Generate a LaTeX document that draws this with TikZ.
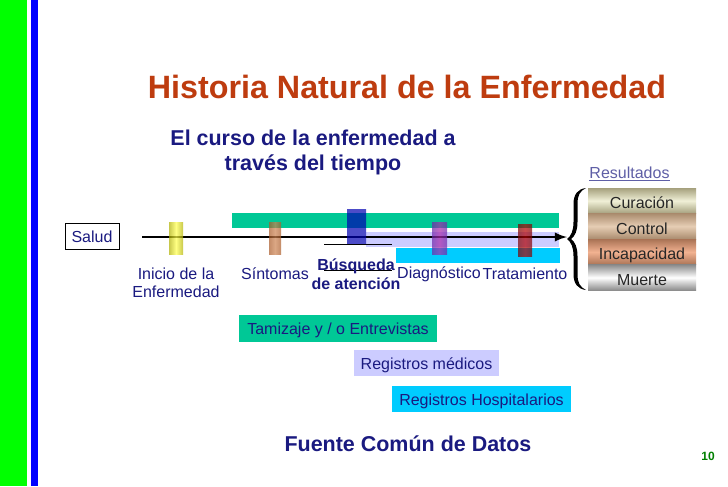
\documentclass[tikz,border=0pt]{standalone}
\usepackage{fontspec}
\setmainfont{Liberation Sans}
\definecolor{textblue}{RGB}{26,26,128}
\definecolor{titlered}{RGB}{190,60,15}
\definecolor{barteal}{RGB}{0,200,150}
\definecolor{barlav}{RGB}{204,204,255}
\definecolor{barcyan}{RGB}{0,204,255}
\definecolor{curA}{RGB}{165,160,125}\definecolor{curB}{RGB}{240,240,215}
\definecolor{conA}{RGB}{170,140,110}\definecolor{conB}{RGB}{230,205,180}
\definecolor{incA}{RGB}{170,115,85}\definecolor{incB}{RGB}{242,178,145}
\definecolor{mueA}{RGB}{140,140,140}
\definecolor{sinA}{RGB}{170,90,40}\definecolor{sinB}{RGB}{205,130,80}
\definecolor{diaA}{RGB}{110,40,170}\definecolor{diaB}{RGB}{170,40,170}
\tikzset{
  lbl/.style={text=textblue,font=\fontsize{12}{13.5}\selectfont,align=center,inner sep=0pt},
  lblbold/.style={text=textblue,font=\fontsize{12}{14.25}\selectfont\bfseries,align=center,inner sep=0pt},
  bar/.style={minimum height=15*0.75pt,inner sep=0pt,anchor=west},
  marker/.style={minimum width=14*0.75pt,minimum height=32*0.75pt,inner sep=0pt,fill opacity=.7},
  res/.style={minimum width=108*0.75pt,minimum height=25.5*0.75pt,inner sep=0pt,text=black!85,text height=12pt,text depth=.2pt,font=\fontsize{12}{13}\selectfont},
  tag/.style={text=textblue,font=\fontsize{12}{13}\selectfont,inner sep=0pt,text height=9.5pt,text depth=.5pt,minimum height=26.5*0.75pt}
}
\begin{document}
\begin{tikzpicture}[x=0.75pt,y=-0.75pt]
\useasboundingbox (0,0) rectangle (728,486);
\fill [white] (0,0) rectangle (728,486);
\fill [green] (0,0) rectangle (27,486);
\fill [blue] (31,0) rectangle (38,486);
\node [text=titlered,font=\fontsize{24.2}{27}\selectfont\bfseries,inner sep=0pt] (title) at (407,87) {Historia Natural de la Enfermedad};
\node [text=textblue,font=\fontsize{16.1}{18.75}\selectfont\bfseries,align=center,inner sep=0pt] (curso) at (313,152.5) {El curso de la enfermedad a\\través del tiempo};
% bars behind the time line
\node [bar,fill=barteal,minimum width=327*0.75pt] (barA) at (232,220.5) {};
\node [bar,fill=barlav,minimum width=193*0.75pt] (barB) at (366,239) {};
\node [bar,fill=barcyan,minimum width=164*0.75pt] (barC) at (396,255.5) {};
\node [draw=black,line width=.7pt,lbl,text height=10.5pt,text depth=.4pt,minimum width=54*0.75pt,minimum height=26*0.75pt] (salud) at (92,236) {Salud};
\coordinate (lineStart) at (142,237);
\coordinate (lineEnd) at (567,237);
\draw [-latex,line width=2.1pt] (lineStart) -- (lineEnd);
% markers
\node [marker,left color=yellow!70!black,right color=yellow!70!black,middle color=yellow!70!white] (mInicio) at (176,238) {};
\node [marker,minimum width=12*0.75pt,left color=sinA,right color=sinA,middle color=sinB] (mSintomas) at (275,238) {};
\node [marker,minimum width=19*0.75pt,minimum height=35*0.75pt,left color=blue!70!black,right color=blue!70!black,middle color=blue!70!black] (mBusqueda) at (356.5,226.5) {};
\node [marker,minimum width=15*0.75pt,left color=diaA,right color=diaA,middle color=diaB] (mDiag) at (439.5,238) {};
\node [marker,left color=red!50!black,right color=red!50!black,middle color=red!70!black] (mTrat) at (525,240) {};
\coordinate (ruleA) at (324,244);
\coordinate (ruleB) at (392,244);
\coordinate (ruleC) at (324,270);
\coordinate (ruleD) at (392,270);
\draw [line width=.6pt] (ruleA) -- (ruleB);
\draw [line width=.6pt] (ruleC) -- (ruleD);
% labels under the line
\node [lbl] (inicio) at (176,283) {Inicio de la\\Enfermedad};
\node [lbl] (sintomas) at (275,274) {Síntomas};
\node [lblbold] (busqueda) at (356,274.5) {Búsqueda\\de atención};
\node [lbl] (diagnostico) at (439,274) {Diagnóstico};
\node [lbl] (tratamiento) at (525,274) {Tratamiento};
% results
\node [text=textblue!70!white,font=\fontsize{12}{13}\selectfont,inner sep=0pt] (resultados) at (629.5,174) {\underline{Resultados}};
\fill [black] (586,188) .. controls (578,189) and (573.5,194) .. (573.5,204) -- (573.5,222) .. controls (573.5,231) and (571,236) .. (567,239) .. controls (571,242) and (573.5,247) .. (573.5,256) -- (573.5,274) .. controls (573.5,284) and (578,289) .. (586,290) .. controls (580,287) and (577.5,283) .. (577.5,274) -- (577.5,256) .. controls (577.5,247) and (575,242) .. (571,239) .. controls (575,236) and (577.5,231) .. (577.5,222) -- (577.5,204) .. controls (577.5,195) and (580,191) .. (586,188) -- cycle;
\node [res,top color=curA,bottom color=curA,middle color=curB] (curacion) at (642,200.75) {Curación};
\node [res,top color=conA,bottom color=conA,middle color=conB] (control) at (642,226.25) {Control};
\node [res,top color=incA,bottom color=incA,middle color=incB] (incapacidad) at (642,252) {Incapacidad};
\node [res,top color=mueA,bottom color=mueA,middle color=white] (muerte) at (642,277.5) {Muerte};
% sources
\node [tag,fill=barteal,minimum width=198*0.75pt] (tamizaje) at (338,328.5) {Tamizaje y / o Entrevistas};
\node [tag,fill=barlav,minimum width=145*0.75pt] (medicos) at (426.5,363) {Registros médicos};
\node [tag,fill=barcyan,minimum width=179*0.75pt] (hospital) at (481.5,399) {Registros Hospitalarios};
\node [text=textblue,font=\fontsize{16.1}{18}\selectfont\bfseries,inner sep=0pt] (fuente) at (408,444) {Fuente Común de Datos};
\node [text=green!50!black,font=\fontsize{9}{11}\selectfont\bfseries,inner sep=0pt] (pagina) at (708,456) {10};
\end{tikzpicture}
\end{document}
